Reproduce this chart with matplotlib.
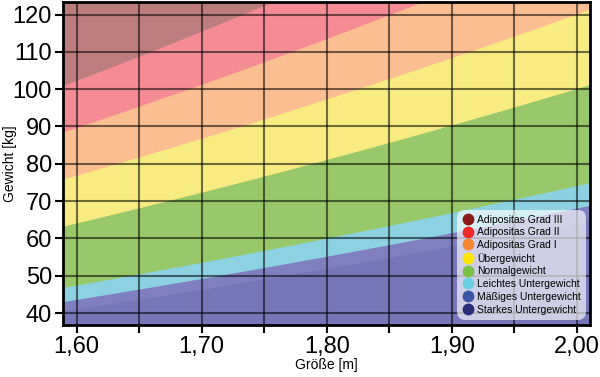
import numpy as np
import matplotlib.pyplot as plt
from matplotlib.lines import Line2D
from matplotlib.ticker import MultipleLocator, FuncFormatter

plt.rcParams['font.family'] = ['Liberation Sans', 'DejaVu Sans']

# BMI-Grenzen der Klassen (von oben nach unten)
categories = ['Adipositas Grad III', 'Adipositas Grad II', 'Adipositas Grad I',
              'Übergewicht', 'Normalgewicht', 'Leichtes Untergewicht',
              'Mäßiges Untergewicht', 'Starkes Untergewicht']
bmi_lower = [40, 35, 30, 25, 18.5, 17, 16, 0]
fill_colors = ['#be7d7d', '#f58c94', '#fabe91', '#f7eb82',
               '#98c869', '#8cd2e1', '#8080c0', '#7676b9']
marker_colors = ['#8b1a1a', '#ee2a2a', '#f58634', '#ffe600',
                 '#7ac143', '#6ccfe0', '#3a55a4', '#2b2f7a']

x_range = [1.589, 2.0105]
y_range = [36.8, 123.5]

fig = plt.figure(figsize=(6, 3.77), dpi=100)
ax = fig.add_axes([0.105, 0.138, 0.878, 0.858])

# von unten nach oben zeichnen, jede Fläche reicht bis ganz oben (keine Lücken)
h = np.linspace(x_range[0], x_range[1], 200)
for lo, col in zip(bmi_lower[::-1], fill_colors[::-1]):
    ax.fill_between(h, lo * h ** 2, 200, color=col, lw=0, zorder=1)

ax.set_xlim(*x_range)
ax.set_ylim(*y_range)

ax.xaxis.set_major_locator(MultipleLocator(0.1))
ax.xaxis.set_minor_locator(MultipleLocator(0.05))
ax.yaxis.set_major_locator(MultipleLocator(10))
ax.xaxis.set_major_formatter(FuncFormatter(lambda v, p: f'{v:.2f}'.replace('.', ',')))

ax.grid(True, which='both', axis='x', color='black', alpha=0.55, lw=1.5, zorder=2)
ax.grid(True, which='major', axis='y', color='black', alpha=0.55, lw=1.5, zorder=2)
ax.set_axisbelow(False)

ax.tick_params(which='both', direction='out', length=6, width=1.5, labelsize=17, pad=2)
for s in ax.spines.values():
    s.set_linewidth(2)
    s.set_zorder(5)

ax.set_xlabel('Größe [m]', fontsize=10, labelpad=0)
ax.set_ylabel('Gewicht [kg]', fontsize=10)
ax.yaxis.set_label_coords(-0.088, 0.5)

handles = [Line2D([0], [0], marker='o', ls='', markersize=7.5, markerfacecolor=c,
                  markeredgecolor=c, label=l) for l, c in zip(categories, marker_colors)]
leg = ax.legend(handles=handles, loc='lower right', fontsize=7.5, labelspacing=0.26,
                handletextpad=0.25, borderpad=0.5, handlelength=1.2,
                fancybox=True, framealpha=0.65, edgecolor='none',
                bbox_to_anchor=(1.003, 0.0))
leg.get_frame().set_boxstyle('round', pad=0, rounding_size=0.8)
leg.set_zorder(10)

fig.savefig('out.png', dpi=100)
